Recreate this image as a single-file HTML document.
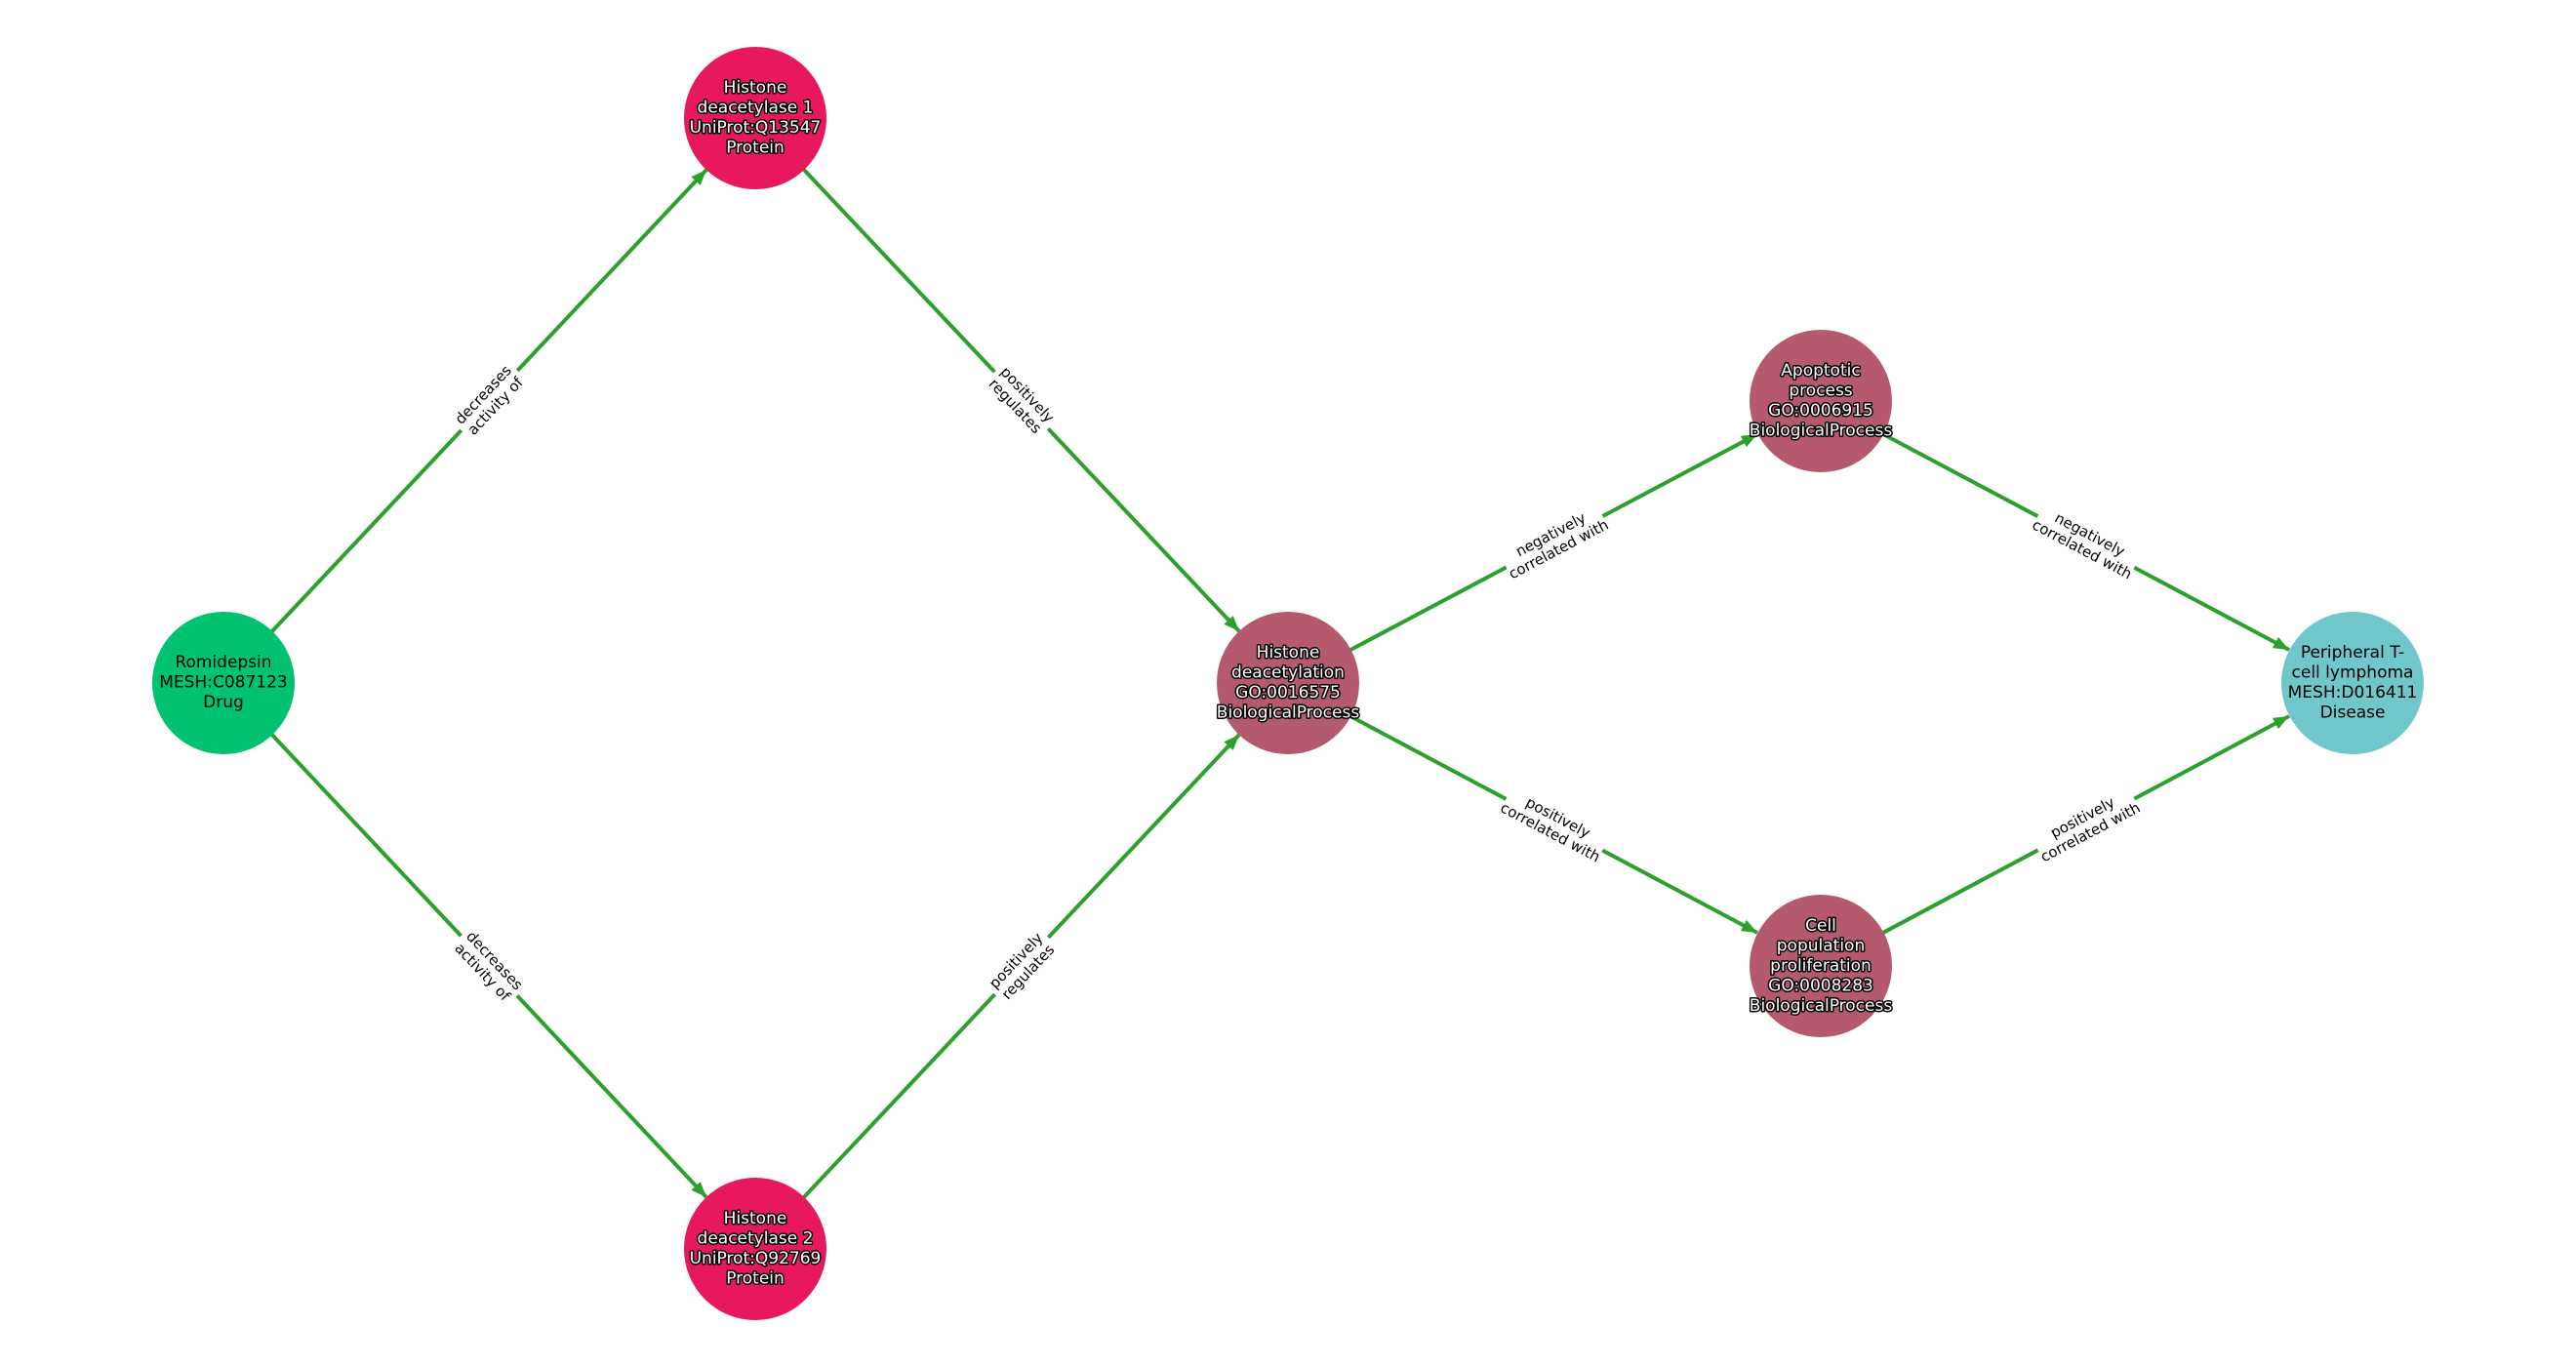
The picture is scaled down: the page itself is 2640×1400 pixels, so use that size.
<!DOCTYPE html>
<html><head><meta charset="utf-8"><style>
body{margin:0;background:#fff}
svg{display:block}
.n{font-family:"DejaVu Sans","Liberation Sans",sans-serif;font-size:17px;text-anchor:middle}
.w{fill:#fff;stroke:#000;stroke-width:3px;paint-order:stroke;stroke-linejoin:round}
.b{fill:#000}
.l{font-family:"DejaVu Sans","Liberation Sans",sans-serif;font-size:15px;text-anchor:middle;fill:#000}
</style></head><body>
<svg width="2640" height="1400" viewBox="0 0 2640 1400">
<defs><marker id="a" viewBox="0 0 10 10" refX="10" refY="5" markerWidth="4" markerHeight="4" orient="auto" markerUnits="strokeWidth"><path d="M0,1 L10,5 L0,9 z" fill="#2ca02c"/></marker></defs>
<g stroke="#2ca02c" stroke-width="4" fill="none" marker-end="url(#a)">
<line x1="229" y1="700" x2="724" y2="174"/>
<line x1="774" y1="121" x2="1270" y2="647"/>
<line x1="229" y1="700" x2="724" y2="1227"/>
<line x1="774" y1="1280" x2="1270" y2="753"/>
<line x1="1320" y1="700" x2="1801" y2="445"/>
<line x1="1866" y1="411" x2="2346" y2="666"/>
<line x1="1320" y1="700" x2="1801" y2="956"/>
<line x1="1866" y1="990" x2="2346" y2="734"/>
</g>
<g>
<g transform="translate(501,410) rotate(-46.7)"><rect x="-42" y="-19" width="84" height="38" fill="#fff"/><text class="l" y="-3">decreases</text><text class="l" y="14">activity of</text></g>
<g transform="translate(1047,410) rotate(46.7)"><rect x="-40" y="-19" width="80" height="38" fill="#fff"/><text class="l" y="-3">positively</text><text class="l" y="14">regulates</text></g>
<g transform="translate(501,990) rotate(46.7)"><rect x="-42" y="-19" width="84" height="38" fill="#fff"/><text class="l" y="-3">decreases</text><text class="l" y="14">activity of</text></g>
<g transform="translate(1047,990) rotate(-46.7)"><rect x="-40" y="-19" width="80" height="38" fill="#fff"/><text class="l" y="-3">positively</text><text class="l" y="14">regulates</text></g>
<g transform="translate(1593,555) rotate(-27.9)"><rect x="-56" y="-19" width="112" height="38" fill="#fff"/><text class="l" y="-3">negatively</text><text class="l" y="14">correlated with</text></g>
<g transform="translate(2138,555) rotate(27.9)"><rect x="-56" y="-19" width="112" height="38" fill="#fff"/><text class="l" y="-3">negatively</text><text class="l" y="14">correlated with</text></g>
<g transform="translate(1593,845) rotate(27.9)"><rect x="-56" y="-19" width="112" height="38" fill="#fff"/><text class="l" y="-3">positively</text><text class="l" y="14">correlated with</text></g>
<g transform="translate(2138,845) rotate(-27.9)"><rect x="-56" y="-19" width="112" height="38" fill="#fff"/><text class="l" y="-3">positively</text><text class="l" y="14">correlated with</text></g>
</g>
<circle cx="229" cy="700" r="73" fill="#00c270"/>
<circle cx="774" cy="121" r="73" fill="#e8185f"/>
<circle cx="774" cy="1280" r="73" fill="#e8185f"/>
<circle cx="1320" cy="700" r="73" fill="#b5596f"/>
<circle cx="1866" cy="411" r="73" fill="#b5596f"/>
<circle cx="1866" cy="990" r="73" fill="#b5596f"/>
<circle cx="2411" cy="700" r="73" fill="#6fc6cb"/>
<text class="n b" x="229" y="684">Romidepsin<tspan x="229" dy="20.5">MESH:C087123</tspan><tspan x="229" dy="20.5">Drug</tspan></text>
<text class="n w" x="774" y="95">Histone<tspan x="774" dy="20.5">deacetylase 1</tspan><tspan x="774" dy="20.5">UniProt:Q13547</tspan><tspan x="774" dy="20.5">Protein</tspan></text>
<text class="n w" x="774" y="1254">Histone<tspan x="774" dy="20.5">deacetylase 2</tspan><tspan x="774" dy="20.5">UniProt:Q92769</tspan><tspan x="774" dy="20.5">Protein</tspan></text>
<text class="n w" x="1320" y="674">Histone<tspan x="1320" dy="20.5">deacetylation</tspan><tspan x="1320" dy="20.5">GO:0016575</tspan><tspan x="1320" dy="20.5">BiologicalProcess</tspan></text>
<text class="n w" x="1866" y="385">Apoptotic<tspan x="1866" dy="20.5">process</tspan><tspan x="1866" dy="20.5">GO:0006915</tspan><tspan x="1866" dy="20.5">BiologicalProcess</tspan></text>
<text class="n w" x="1866" y="954">Cell<tspan x="1866" dy="20.5">population</tspan><tspan x="1866" dy="20.5">proliferation</tspan><tspan x="1866" dy="20.5">GO:0008283</tspan><tspan x="1866" dy="20.5">BiologicalProcess</tspan></text>
<text class="n b" x="2411" y="674">Peripheral T-<tspan x="2411" dy="20.5">cell lymphoma</tspan><tspan x="2411" dy="20.5">MESH:D016411</tspan><tspan x="2411" dy="20.5">Disease</tspan></text>
</svg>
</body></html>
